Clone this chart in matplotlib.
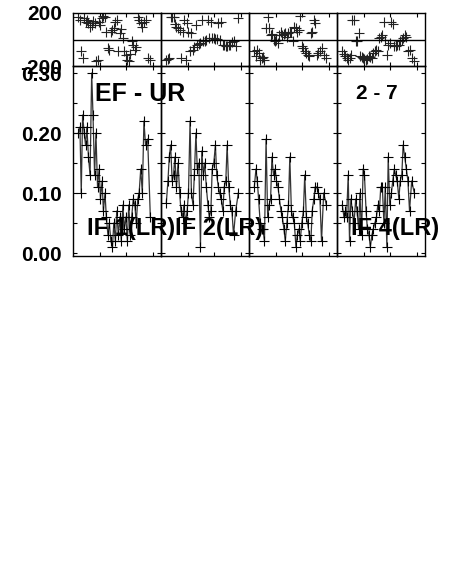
import matplotlib
matplotlib.use("Agg")
from matplotlib import pyplot as plt
from matplotlib import rcParams
from matplotlib.ticker import FixedLocator, NullFormatter

rcParams["font.family"] = "Liberation Sans"
rcParams["font.weight"] = "bold"

# time of each sample (hours), shared by all IFs
times = [0.20, 0.26, 0.31, 0.36, 0.42, 0.47, 0.52, 0.58, 0.64, 0.70,
         0.75, 0.81, 0.86, 0.92, 0.98, 1.03, 1.09, 1.14, 1.20, 1.25,
         1.31, 1.36, 1.42, 1.48, 1.53, 1.59, 1.64, 1.70, 1.76, 1.81,
         1.87, 1.92, 1.98, 2.04, 2.09, 2.15, 2.20, 2.26, 2.32, 2.37,
         2.43, 2.48, 2.54, 2.60, 2.66, 2.72, 2.80, 2.90]

if_labels = ["IF 1(LR)", "IF 2(LR)", "", "IF 4(LR)"]

amp_if1 = [0.20, 0.21, 0.10, 0.23, 0.20, 0.18, 0.21, 0.16, 0.13, 0.30,
           0.23, 0.13, 0.20, 0.11, 0.14, 0.09, 0.12, 0.07, 0.10, 0.06,
           0.03, 0.05, 0.02, 0.01, 0.05, 0.02, 0.07, 0.03, 0.06, 0.02,
           0.08, 0.04, 0.06, 0.02, 0.08, 0.03, 0.06, 0.09, 0.08, 0.05,
           0.09, 0.10, 0.14, 0.10, 0.22, 0.18, 0.19, 0.06]
amp_if2 = [0.084, 0.12, 0.16, 0.18, 0.12, 0.13, 0.16, 0.11, 0.15, 0.10,
           0.07, 0.06, 0.08, 0.05, 0.07, 0.10, 0.22, 0.10, 0.08, 0.13,
           0.20, 0.14, 0.15, 0.01, 0.17, 0.13, 0.15, 0.11, 0.08, 0.06,
           0.07, 0.14, 0.15, 0.18, 0.13, 0.11, 0.10, 0.09, 0.07, 0.11,
           0.12, 0.18, 0.11, 0.08, 0.07, 0.03, 0.07, 0.10]
amp_if3 = [0.11, 0.14, 0.12, 0.09, 0.05, 0.04, 0.04, 0.02, 0.19, 0.06,
           0.08, 0.09, 0.16, 0.13, 0.14, 0.12, 0.11, 0.09, 0.07, 0.06,
           0.04, 0.02, 0.05, 0.08, 0.16, 0.07, 0.06, 0.05, 0.01, 0.03,
           0.04, 0.02, 0.05, 0.07, 0.13, 0.06, 0.05, 0.03, 0.02, 0.07,
           0.09, 0.11, 0.11, 0.10, 0.09, 0.02, 0.10, 0.08]
amp_if4 = [0.08, 0.06, 0.07, 0.06, 0.13, 0.02, 0.09, 0.07, 0.05, 0.09,
           0.07, 0.04, 0.10, 0.03, 0.14, 0.13, 0.07, 0.04, 0.03, 0.01,
           0.03, 0.04, 0.05, 0.06, 0.08, 0.07, 0.11, 0.11, 0.05, 0.11,
           0.01, 0.16, 0.08, 0.10, 0.12, 0.14, 0.13, 0.12, 0.09, 0.12,
           0.13, 0.18, 0.16, 0.14, 0.12, 0.07, 0.12, 0.10]

ph_if1 = [172, 148, -90, -140, 160, 135, 150, 122, 98, 110,
          140, 122, -165, -152, 135, 110, 160, 178, 172, 60,
          -65, -78, 60, 72, 90, 135, 148, -90, 48, 80,
          10, -90, -120, -152, -165, -110, -15, -40, -78, -60,
          172, 148, 122, 98, 135, 150, -140, -152]
ph_if2 = [-152, -145, -140, 172, 172, 172, 120, 98, 85, 72,
          -140, 60, 148, -152, 122, 60, -90, 48, -78, -60,
          110, -40, -35, -28, 148, -15, -10, -2, 148, 10,
          135, 10, 12, 5, 5, 122, -2, 135, -40, -45,
          -52, -50, -40, -40, -20, -15, -52, 160]
ph_if3 = [-90, -128, -78, -100, -152, -140, -130, -152, 90, 172,
          85, 35, 40, -2, -15, -2, -28, 35, 60, 35,
          40, 48, 20, 48, 55, 60, -15, 98, 85, 60,
          70, 178, -50, -65, -90, -100, -115, -125, 48, 60,
          148, 122, -115, -100, -90, -65, -115, -140]
ph_if4 = [-90, -110, -128, -140, -152, -140, -120, 148, 150, -15,
          -15, 48, -128, -130, -140, -145, -152, -150, -128, -135,
          -140, -102, -90, -78, -90, 10, 20, 35, 135, -2,
          -115, -40, -30, 135, 120, -52, -50, -45, -40, -15,
          -2, 10, 35, 20, -90, -78, -140, -165]

amps = [amp_if1, amp_if2, amp_if3, amp_if4]
phases = [ph_if1, ph_if2, ph_if3, ph_if4]

W, H = 459, 583
fig = plt.figure(figsize=(W/100, H/100), dpi=100)

x_left = 73
col_w = 88
ph_top, ph_bot = 13, 66
amp_bot = 256

for i in range(4):
    x0 = (x_left + i*col_w)/W
    ax_ph = fig.add_axes([x0, 1 - ph_bot/H, col_w/W, (ph_bot - ph_top)/H])
    ax_amp = fig.add_axes([x0, 1 - amp_bot/H, col_w/W, (amp_bot - ph_bot)/H])
    # no white background, so labels can run over the next column
    ax_ph.patch.set_visible(False)
    ax_amp.patch.set_visible(False)

    # phase panel
    ax_ph.plot(times, phases[i], linestyle='', marker='+', color='#222222',
               markersize=7, markeredgewidth=0.8)
    ax_ph.axhline(0, color='black', linewidth=1)
    ax_ph.set_xlim(0, 3.3)
    ax_ph.set_ylim(-200, 200)

    # amplitude panel
    ax_amp.plot(times, amps[i], linestyle='-', linewidth=0.9, color='#333333',
                marker='+', mec='black', markersize=7, markeredgewidth=0.8)
    ax_amp.set_xlim(0, 3.3)
    ax_amp.set_ylim(-0.005, 0.3117)

    for ax in (ax_ph, ax_amp):
        for s in ax.spines.values():
            s.set_linewidth(1.0)
        ax.xaxis.set_major_locator(FixedLocator([1, 2, 3]))
        ax.xaxis.set_major_formatter(NullFormatter())
        ax.tick_params(axis='both', direction='in', length=3, width=0.8,
                       top=True, right=True, labelsize=15, pad=8)

    ax_amp.yaxis.set_major_locator(FixedLocator([0.0, 0.05, 0.10, 0.15, 0.20, 0.25, 0.30]))
    ax_ph.yaxis.set_major_locator(FixedLocator([-200, 200]))
    ax_ph.tick_params(axis='y', length=0)

    if i == 0:
        ax_amp.set_yticklabels(['0.00', '', '0.10', '', '0.20', '', '0.30'])
        ax_ph.set_yticklabels(['-200', '200'])
        ax_amp.text(0.25, 0.853, 'EF - UR', transform=ax_amp.transAxes,
                    fontsize=18, fontweight='bold', ha='left', va='center',
                    clip_on=False, zorder=5)
    else:
        ax_amp.yaxis.set_major_formatter(NullFormatter())
        ax_ph.yaxis.set_major_formatter(NullFormatter())
    if i == 3:
        ax_amp.text(0.455, 0.853, '2 - 7', transform=ax_amp.transAxes,
                    fontsize=15, fontweight='bold', ha='center', va='center')

    if if_labels[i]:
        ax_amp.text(0.16, 0.147, if_labels[i], transform=ax_amp.transAxes,
                    fontsize=17, fontweight='bold', ha='left', va='center',
                    clip_on=False, zorder=5)

fig.savefig('out.png', dpi=100)
